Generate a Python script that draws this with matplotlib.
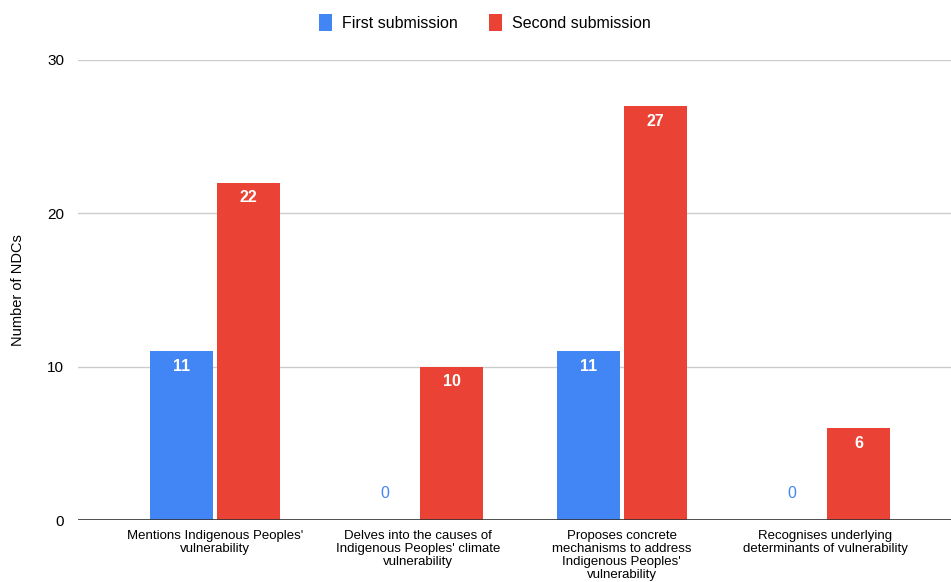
import numpy as np
import matplotlib.pyplot as plt

plt.rcParams['font.family'] = ['Liberation Sans', 'DejaVu Sans']

categories = ["Mentions Indigenous Peoples'\nvulnerability",
              "Delves into the causes of\nIndigenous Peoples' climate\nvulnerability",
              "Proposes concrete\nmechanisms to address\nIndigenous Peoples'\nvulnerability",
              "Recognises underlying\ndeterminants of vulnerability"]
first = [11, 0, 11, 0]
second = [22, 10, 27, 6]

blue = '#4285F4'
red = '#EA4335'

fig = plt.figure(figsize=(9.51, 5.82), dpi=100)
ax = fig.add_axes([0.082, 0.1065, 0.918, 0.7905])

x = np.arange(len(categories))
w = 0.31
b1 = ax.bar(x - 0.165, first, w, color=blue, label='First submission', zorder=3)
b2 = ax.bar(x + 0.165, second, w, color=red, label='Second submission', zorder=3)

for bars, vals in [(b1, first), (b2, second)]:
    for r, v in zip(bars, vals):
        cx = r.get_x() + r.get_width() / 2
        if v == 0:
            ax.text(cx, 1.7, str(v), ha='center', va='center', color=blue, fontsize=11.5)
        else:
            ax.text(cx, v - 1.0, str(v), ha='center', va='center', color='white',
                    fontsize=11.5, fontweight='bold')

ax.set_ylim(0, 30)
ax.set_yticks([0, 10, 20, 30])
ax.set_xlim(-0.674, 3.62)
ax.set_xticks(x)
ax.set_xticklabels(categories, fontsize=9.5, linespacing=1.12)
ax.tick_params(axis='x', length=0, pad=7)
ax.tick_params(axis='y', length=0, labelsize=11, pad=10)
ax.grid(axis='y', color='#cccccc', linewidth=1, zorder=0)
for s in ax.spines.values():
    s.set_visible(False)
ax.axhline(0, color='#333333', linewidth=1.2, zorder=4)
ax.set_ylabel('Number of NDCs', fontsize=10.5, labelpad=16)

fig.legend(loc='upper center', bbox_to_anchor=(0.51, 1.0), ncol=2, frameon=False,
           fontsize=11.5, handlelength=0.8, handleheight=1.2, columnspacing=2.0,
           handletextpad=0.6)

fig.savefig('out.png', dpi=100)
